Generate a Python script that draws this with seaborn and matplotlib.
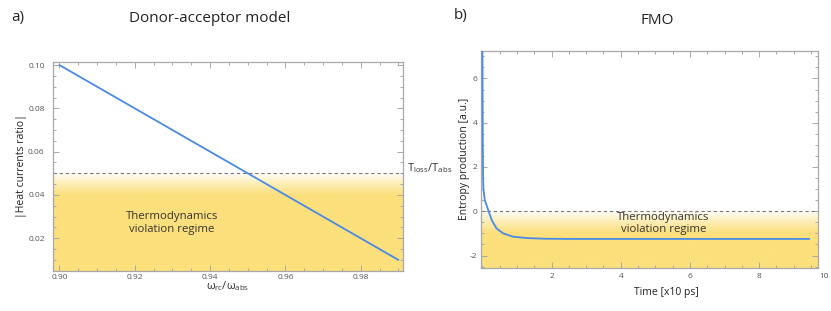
import numpy as np
import pandas as pd
import matplotlib
matplotlib.use("Agg")
import matplotlib.pyplot as plt
from matplotlib.ticker import MultipleLocator
import seaborn as sns

# ---------------- data ----------------
omega_ratio = [0.90, 0.99]
heat_ratio = [0.10, 0.01]
tloss_tabs = 0.05

time_x10ps = [0.0, 0.01, 0.02, 0.03, 0.07, 0.17, 0.27, 0.41, 0.60, 0.89, 1.28, 1.75, 2.5, 4.0, 6.0, 8.0, 9.45]
entropy = [8.0, 3.5, 1.6, 1.0, 0.5, 0.05, -0.4, -0.78, -1.0, -1.15, -1.21, -1.24, -1.25, -1.25, -1.25, -1.25, -1.25]
entropy_zero = 0.0

# ---------------- style ----------------
sns.set_style("ticks")
plt.rcParams['font.family'] = ['Open Sans', 'DejaVu Sans']
plt.rcParams['mathtext.fontset'] = 'custom'
plt.rcParams['mathtext.rm'] = 'Open Sans'
plt.rcParams['mathtext.it'] = 'Open Sans:italic'

LINE = "#4A8AE5"
FRAME = "#A8A8A8"
TICKC = "#555555"
YEL = np.array([252, 224, 124]) / 255.0

fig = plt.figure(figsize=(8.31, 3.11), dpi=100)
W, H = 831, 311
ax1 = fig.add_axes([53 / W, (H - 271) / H, 350 / W, 209 / H])
ax2 = fig.add_axes([481 / W, (H - 267.7) / H, 337 / W, 216.7 / H])


def frame(ax):
    for sp in ax.spines.values():
        sp.set_visible(True)
        sp.set_color(FRAME)
        sp.set_linewidth(0.9)
    ax.tick_params(which='both', direction='in', top=True, right=True, color=FRAME,
                   labelcolor=TICKC, labelsize=6, width=0.7)
    ax.tick_params(which='major', length=4)
    ax.tick_params(which='minor', length=2)


def gradient(ax, thr, fade_px, h_px):
    x0, x1 = ax.get_xlim()
    y0, y1 = ax.get_ylim()
    n = 400
    frac = np.linspace(0, 1, n)[:, None]  # 0 at top (thr), 1 at bottom
    f = fade_px / h_px
    a = np.clip(frac / f, 0, 1) ** 0.8
    img = np.ones((n, 2, 4))
    img[..., :3] = YEL
    img[..., 3] = a
    ax.imshow(img, extent=[x0, x1, y0, thr], aspect='auto', zorder=0, interpolation='bilinear')
    ax.set_xlim(x0, x1)
    ax.set_ylim(y0, y1)


# ---------------- panel a ----------------
df1 = pd.DataFrame({"w": omega_ratio, "h": heat_ratio})
sns.lineplot(data=df1, x="w", y="h", ax=ax1, color=LINE, lw=1.3, zorder=3)
ax1.set_xlim(0.8983, 0.9912)
ax1.set_ylim(0.0049, 0.1014)
frame(ax1)
ax1.xaxis.set_major_locator(MultipleLocator(0.02))
ax1.xaxis.set_minor_locator(MultipleLocator(0.005))
ax1.yaxis.set_major_locator(MultipleLocator(0.02))
ax1.yaxis.set_minor_locator(MultipleLocator(0.005))
ax1.set_xticks([0.90, 0.92, 0.94, 0.96, 0.98])
ax1.set_xticklabels(["0.90", "0.92", "0.94", "0.96", "0.98"])
ax1.set_yticks([0.02, 0.04, 0.06, 0.08, 0.10])
ax1.set_yticklabels(["0.02", "0.04", "0.06", "0.08", "0.10"])
ax1.tick_params(axis='x', pad=2)
ax1.tick_params(axis='y', pad=6)
gradient(ax1, tloss_tabs, 22, 98)
ax1.axhline(tloss_tabs, color="#777777", lw=0.8, ls=(0, (3, 2.5)), zorder=2)
ax1.set_xlabel(r"$\mathrm{\omega_{rc}/\omega_{abs}}$", fontsize=8, color="#333333")
ax1.xaxis.set_label_coords(0.5, -0.04)
ax1.set_ylabel("|Heat currents ratio|", fontsize=7.5, color="#222222", labelpad=1)
ax1.text(0.9298, 0.0272, "Thermodynamics\nviolation regime", ha='center', va='center',
         fontsize=8.2, color="#333333", linespacing=1.25)
ax1.text(1.011, 0.0525, r"$\mathrm{T_{loss}/T_{abs}}$", transform=ax1.get_yaxis_transform(),
         ha='left', va='center', fontsize=8, color="#333333", clip_on=False)
fig.text(209.7 / W, 1 - 18.5 / H, "Donor-acceptor model", ha='center', va='center', fontsize=11, color="#222222")
fig.text(11 / W, 1 - 18 / H, "a)", ha='left', va='center', fontsize=11, color="#222222")

# ---------------- panel b ----------------
df2 = pd.DataFrame({"t": time_x10ps, "s": entropy})
sns.lineplot(data=df2, x="t", y="s", ax=ax2, color=LINE, lw=1.3, zorder=3, sort=False)
ax2.set_xlim(-0.04, 9.7)
ax2.set_ylim(-2.55, 7.24)
frame(ax2)
ax2.xaxis.set_major_locator(MultipleLocator(2))
ax2.xaxis.set_minor_locator(MultipleLocator(0.5))
ax2.yaxis.set_major_locator(MultipleLocator(2))
ax2.yaxis.set_minor_locator(MultipleLocator(0.5))
ax2.set_xticks([2, 4, 6, 8])
ax2.set_xticklabels(["2", "4", "6", "8"])
ax2.set_yticks([-2, 0, 2, 4, 6])
ax2.set_yticklabels(["-2", "0", "2", "4", "6"])
ax2.tick_params(axis='x', pad=4)
ax2.tick_params(axis='y', pad=2.5)
ax2.text(10, -0.025, "10", transform=ax2.get_xaxis_transform(), ha='right', va='top',
         fontsize=6, color=TICKC, clip_on=False)
gradient(ax2, entropy_zero, 22, 56.7)
ax2.axhline(entropy_zero, color="#777777", lw=0.8, ls=(0, (3, 2.5)), zorder=2)
ax2.set_xlabel("Time [x10 ps]", fontsize=7.5, color="#222222")
ax2.xaxis.set_label_coords(0.549, -0.088)
ax2.set_ylabel("Entropy production [a.u.]", fontsize=7.5, color="#222222", labelpad=0)
ax2.text(5.23, -0.55, "Thermodynamics\nviolation regime", ha='center', va='center',
         fontsize=8.2, color="#333333", linespacing=1.2)
fig.text(657 / W, 1 - 20 / H, "FMO", ha='center', va='center', fontsize=11, color="#222222")
fig.text(454 / W, 1 - 16 / H, "b)", ha='left', va='center', fontsize=11, color="#222222")

fig.savefig("out.png", dpi=100)
